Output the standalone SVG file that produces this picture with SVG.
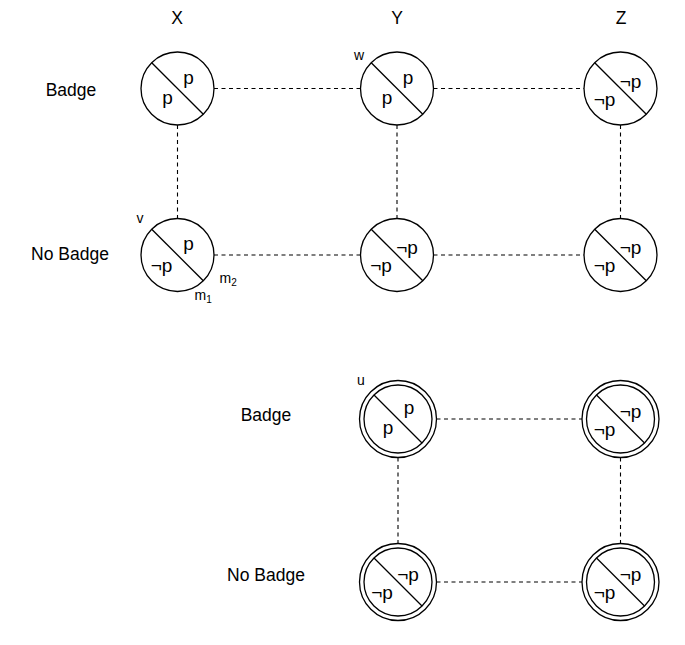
<svg xmlns="http://www.w3.org/2000/svg" width="685" height="645" viewBox="0 0 685 645">
<style>
text{font-family:"Liberation Sans",Arial,sans-serif;fill:#000}
.h{font-size:17.5px;text-anchor:middle}
.p{font-size:19px;text-anchor:middle}
.s{font-size:14px}
.sub{font-size:10px}
.c{fill:#fff;stroke:#000;stroke-width:1.3}
.d{stroke:#000;stroke-width:1.3}
.e{stroke:#000;stroke-width:1.1;stroke-dasharray:4,3.5;fill:none}
</style>
<defs>
<g id="single"><circle class="c" r="36.5"/><line class="d" x1="-25.8" y1="-25.8" x2="25.8" y2="25.8"/></g>
<g id="double"><circle class="c" r="38.5"/><circle class="c" r="34"/><line class="d" x1="-24" y1="-24" x2="24" y2="24"/></g>
</defs>
<rect width="685" height="645" fill="#fff"/>
<g id="labels">
<text class="h" x="177" y="24">X</text>
<text class="h" x="397" y="24">Y</text>
<text class="h" x="621" y="24">Z</text>
<text class="h" x="71" y="96">Badge</text>
<text class="h" x="70" y="260">No Badge</text>
<text class="h" x="266" y="421">Badge</text>
<text class="h" x="266" y="581">No Badge</text>
</g>
<g id="connectors">
<line class="e" x1="214" y1="88.5" x2="360.5" y2="88.5"/>
<line class="e" x1="433.5" y1="88.5" x2="584" y2="88.5"/>
<line class="e" x1="214" y1="255" x2="360.5" y2="255"/>
<line class="e" x1="433.5" y1="255" x2="584" y2="255"/>
<line class="e" x1="177.5" y1="125" x2="177.5" y2="218.5"/>
<line class="e" x1="397" y1="125" x2="397" y2="218.5"/>
<line class="e" x1="620.5" y1="125" x2="620.5" y2="218.5"/>
<line class="e" x1="436.5" y1="419" x2="582" y2="419"/>
<line class="e" x1="436.5" y1="582" x2="582" y2="582"/>
<line class="e" x1="398" y1="457.5" x2="398" y2="543.5"/>
<line class="e" x1="620.5" y1="457.5" x2="620.5" y2="543.5"/>
</g>
<g id="n_x_badge" transform="translate(177.5,88.5)">
<use href="#single"/><text class="p" x="11" y="-5">p</text><text class="p" x="-10" y="15">p</text>
</g>
<g id="n_w" transform="translate(397,88.5)">
<use href="#single"/><text class="p" x="11" y="-5">p</text><text class="p" x="-10" y="15">p</text>
<text class="s" x="-43" y="-29">w</text>
</g>
<g id="n_z_badge" transform="translate(620.5,88.5)">
<use href="#single"/><text class="p" x="10" y="-1">¬p</text><text class="p" x="-16" y="17">¬p</text>
</g>
<g id="n_v" transform="translate(177.5,255)">
<use href="#single"/><text class="p" x="11" y="-5">p</text><text class="p" x="-16" y="17">¬p</text>
<text class="s" x="-41" y="-32">v</text>
<text class="s" x="42" y="28">m<tspan class="sub" dy="3">2</tspan></text>
<text class="s" x="17" y="45">m<tspan class="sub" dy="3">1</tspan></text>
</g>
<g id="n_y_nobadge" transform="translate(397,255)">
<use href="#single"/><text class="p" x="10" y="-1">¬p</text><text class="p" x="-16" y="17">¬p</text>
</g>
<g id="n_z_nobadge" transform="translate(620.5,255)">
<use href="#single"/><text class="p" x="10" y="-1">¬p</text><text class="p" x="-16" y="17">¬p</text>
</g>
<g id="n_u" transform="translate(398,419)">
<use href="#double"/><text class="p" x="11" y="-5">p</text><text class="p" x="-10" y="15">p</text>
<text class="s" x="-41" y="-34">u</text>
</g>
<g id="n_z_badge2" transform="translate(620.5,419)">
<use href="#double"/><text class="p" x="10" y="-1">¬p</text><text class="p" x="-16" y="17">¬p</text>
</g>
<g id="n_y_nobadge2" transform="translate(398,582)">
<use href="#double"/><text class="p" x="10" y="-1">¬p</text><text class="p" x="-16" y="17">¬p</text>
</g>
<g id="n_z_nobadge2" transform="translate(620.5,582)">
<use href="#double"/><text class="p" x="10" y="-1">¬p</text><text class="p" x="-16" y="17">¬p</text>
</g>
</svg>
